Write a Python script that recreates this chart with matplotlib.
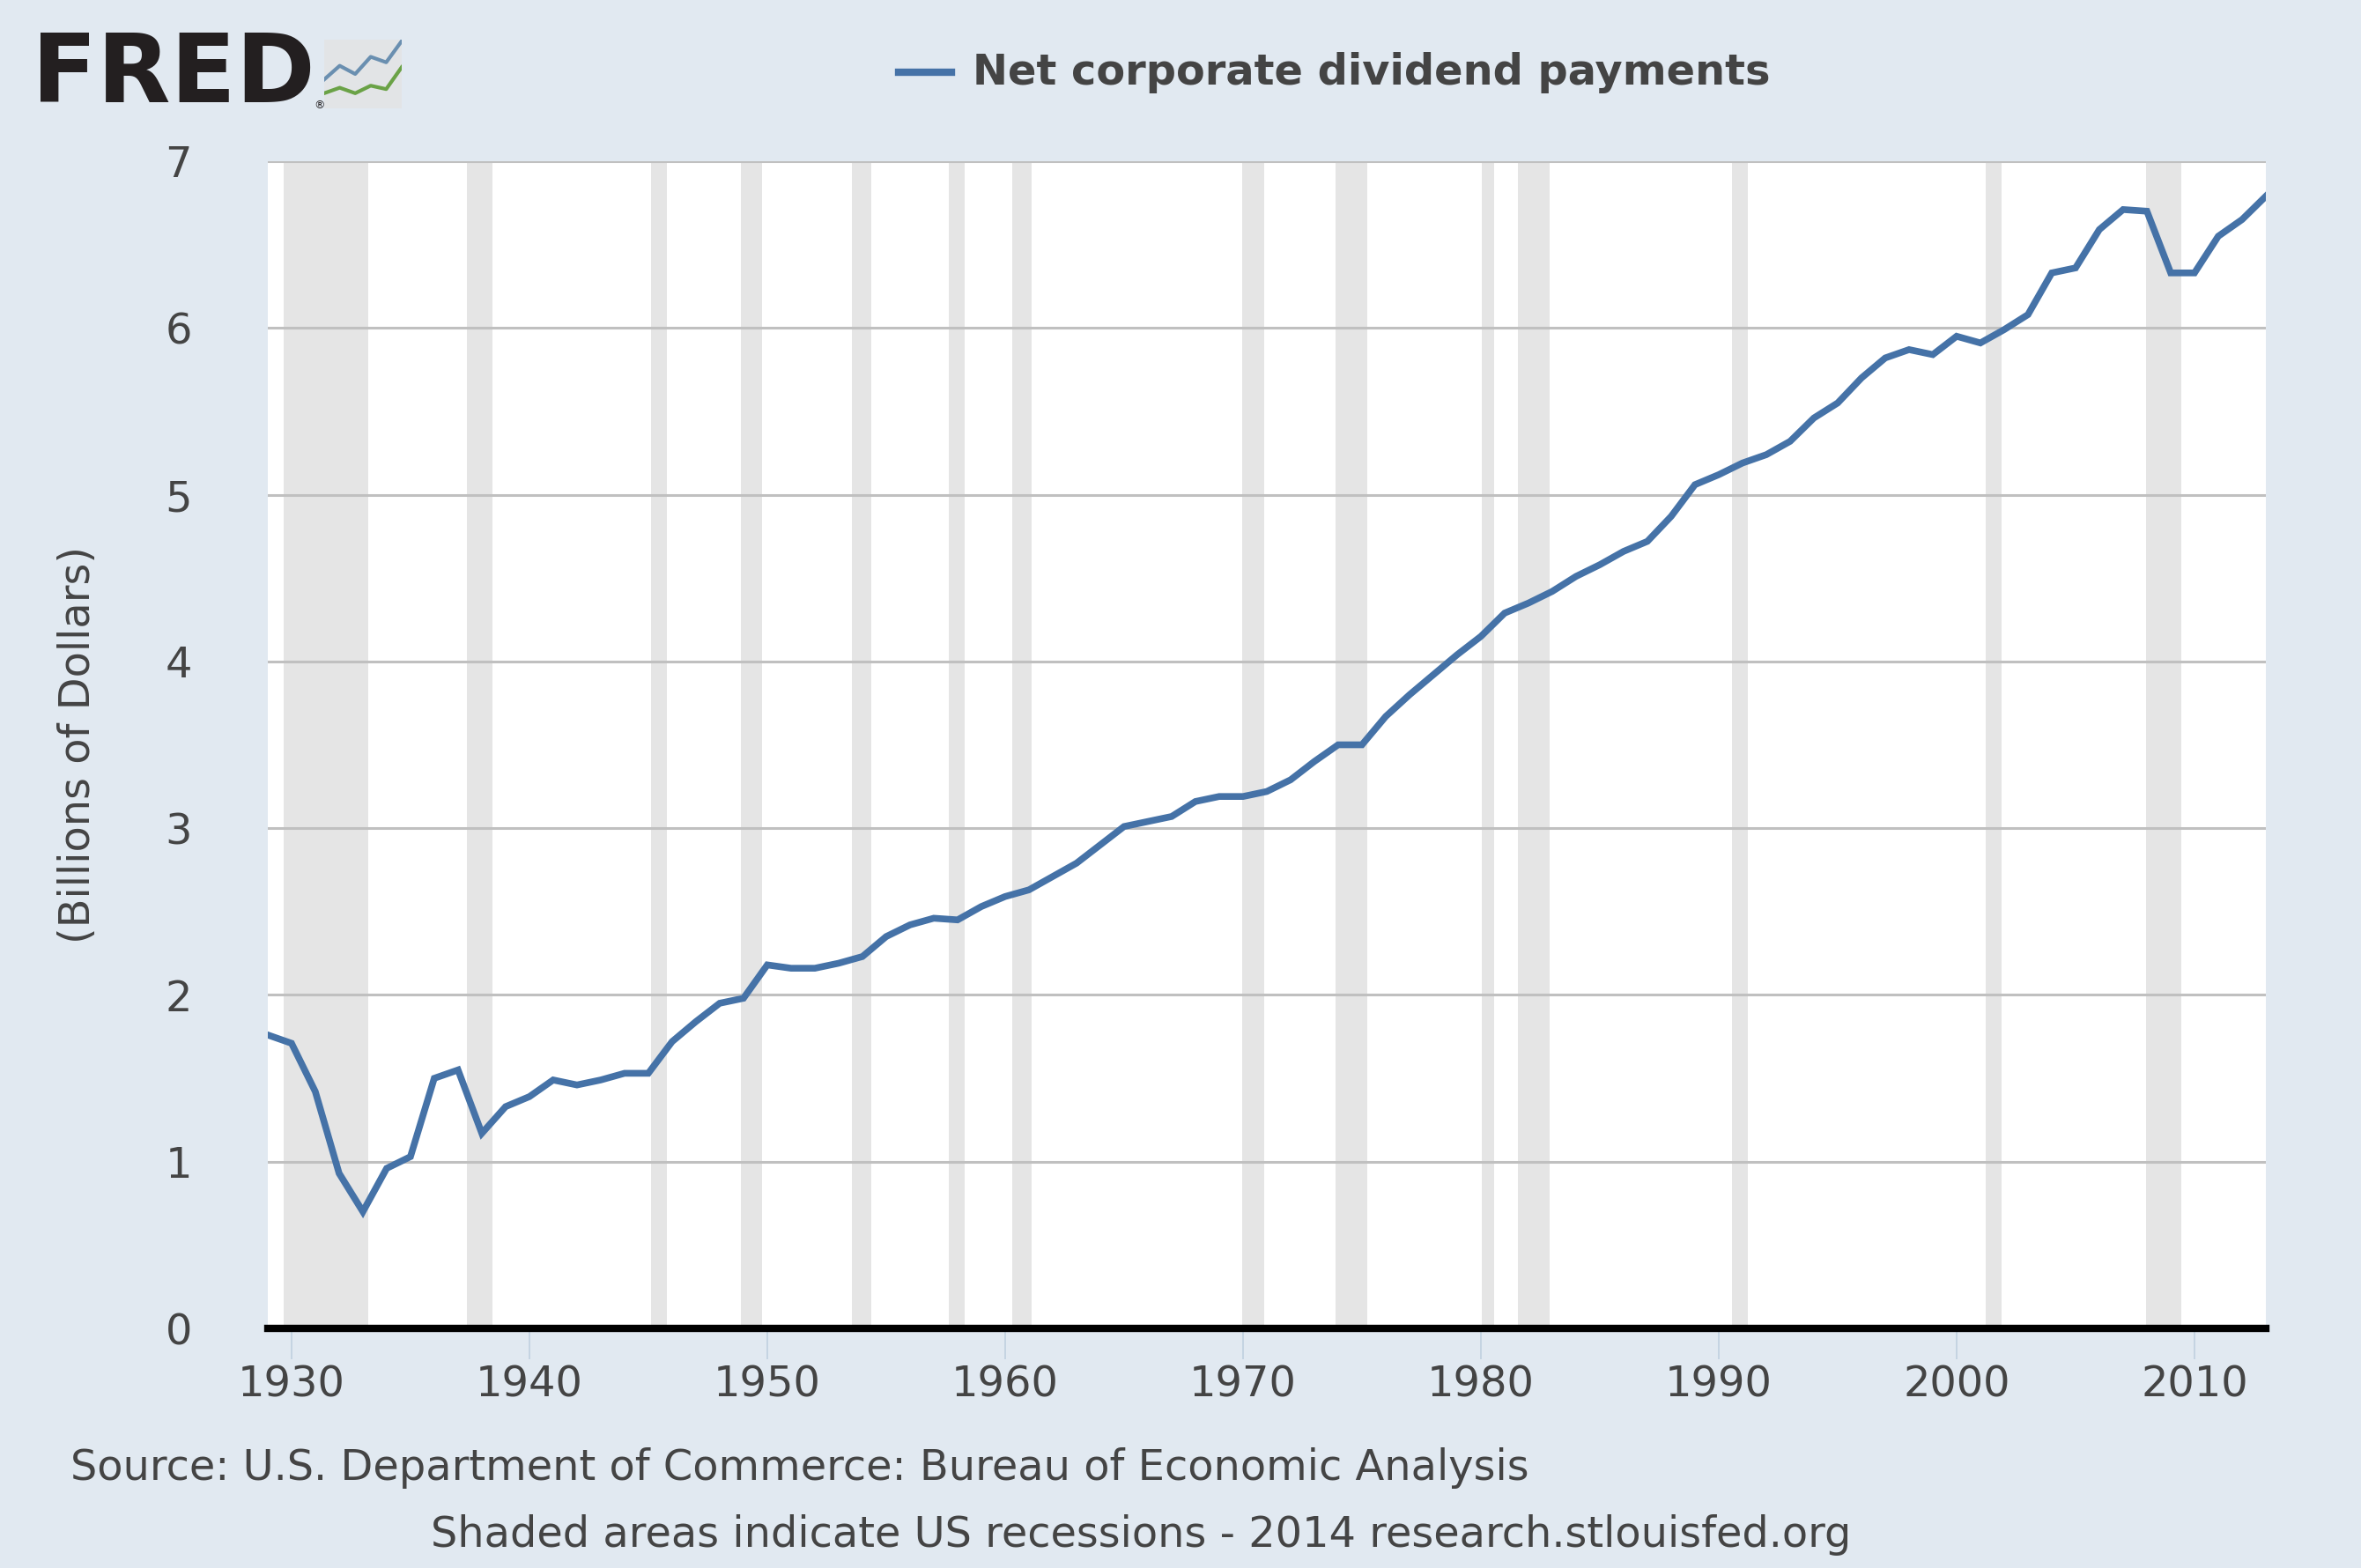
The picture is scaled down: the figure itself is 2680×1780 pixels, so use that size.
import numpy as np
import matplotlib
matplotlib.use("Agg")
import matplotlib.pyplot as plt

# annual values, 1929-2013
years = list(range(1929, 2014))
dividends = [1.76, 1.71, 1.42, 0.93, 0.70, 0.96, 1.03, 1.50, 1.55, 1.17,
             1.33, 1.39, 1.49, 1.46, 1.49, 1.53, 1.53, 1.72, 1.84, 1.95,
             1.98, 2.18, 2.16, 2.16, 2.19, 2.23, 2.35, 2.42, 2.46, 2.45,
             2.53, 2.59, 2.63, 2.71, 2.79, 2.90, 3.01, 3.04, 3.07, 3.16,
             3.19, 3.19, 3.22, 3.29, 3.40, 3.50, 3.50, 3.67, 3.80, 3.92,
             4.04, 4.15, 4.29, 4.35, 4.42, 4.51, 4.58, 4.66, 4.72, 4.87,
             5.06, 5.12, 5.19, 5.24, 5.32, 5.46, 5.55, 5.70, 5.82, 5.87,
             5.84, 5.95, 5.91, 5.99, 6.08, 6.33, 6.36, 6.59, 6.71, 6.70,
             6.33, 6.33, 6.55, 6.65, 6.79]

# NBER recessions (start, end) in decimal years
rec_start = [1929.67, 1937.38, 1945.12, 1948.88, 1953.54, 1957.62, 1960.29,
             1969.96, 1973.88, 1980.04, 1981.54, 1990.54, 2001.21, 2007.96]
rec_end = [1933.21, 1938.46, 1945.79, 1949.79, 1954.38, 1958.29, 1961.12,
           1970.88, 1975.21, 1980.54, 1982.88, 1991.21, 2001.88, 2009.46]

xticks = list(range(1930, 2011, 10))
yticks = list(range(0, 8))

bg = '#e1e9f1'
txt = '#444444'
line_col = '#4572a7'
fs = 34.5

fig = plt.figure(figsize=(26.8, 17.8), dpi=100, facecolor=bg)
ax = fig.add_axes([0.1134, 0.1528, 0.8463, 0.7444])
ax.set_facecolor('white')

for s, e in zip(rec_start, rec_end):
    ax.axvspan(s, e, color='#e5e5e5', lw=0, zorder=1)

ax.plot(years, dividends, color=line_col, lw=5.5, zorder=3, solid_joinstyle='miter')

ax.set_xlim(1929, 2013)
ax.set_ylim(0, 7)
ax.set_xticks(xticks)
ax.set_yticks(yticks)
ax.grid(axis='y', color='#c0c0c0', lw=2.2, zorder=2)
ax.set_axisbelow(False)
for sp in ['top', 'right', 'left']:
    ax.spines[sp].set_visible(False)
ax.spines['bottom'].set_color('black')
ax.spines['bottom'].set_linewidth(6)
ax.spines['bottom'].set_zorder(4)
ax.tick_params(axis='x', length=25, width=1.2, color='#c0d0e0', pad=4,
               labelsize=fs, labelcolor=txt)
ax.tick_params(axis='y', length=0, pad=62, labelsize=fs, labelcolor=txt)
ax.set_ylabel('(Billions of Dollars)', fontsize=fs, color=txt, labelpad=54)

# legend at top
fig.lines.append(plt.Line2D([1020 / 2680, 1080 / 2680], [1 - 82 / 1780] * 2,
                            transform=fig.transFigure, color=line_col, lw=6))
fig.text(1104 / 2680, 1 - 82 / 1780, 'Net corporate dividend payments',
         fontsize=fs, fontweight='bold', color=txt, va='center', ha='left')

# FRED logo
fig.text(36 / 2680, 1 - 86 / 1780, 'FRED', fontsize=78, fontweight='heavy',
         color='#231f20', va='center', ha='left')
fig.text(356 / 2680, 1 - 120 / 1780, '®', fontsize=9, color='#231f20',
         va='center', ha='left')
ic = fig.add_axes([368 / 2680, 1 - 123 / 1780, 88 / 2680, 78 / 1780])
ic.set_facecolor('#e2e4e6')
ic.plot([0, 1, 2, 3, 4, 5], [0.42, 0.62, 0.5, 0.75, 0.67, 0.98], color='#6a8fb0', lw=3)
ic.plot([0, 1, 2, 3, 4, 5], [0.22, 0.3, 0.22, 0.33, 0.28, 0.6], color='#6aa246', lw=3)
ic.set_xlim(0, 5)
ic.set_ylim(0, 1)
ic.set_xticks([])
ic.set_yticks([])
for sp in ic.spines.values():
    sp.set_visible(False)

fig.text(80 / 2680, 1 - 1666 / 1780,
         'Source: U.S. Department of Commerce: Bureau of Economic Analysis',
         fontsize=fs, color=txt, va='center', ha='left')
fig.text(489 / 2680, 1 - 1743 / 1780,
         'Shaded areas indicate US recessions - 2014 research.stlouisfed.org',
         fontsize=fs, color=txt, va='center', ha='left')

fig.savefig('out.png', dpi=100, facecolor=bg)
